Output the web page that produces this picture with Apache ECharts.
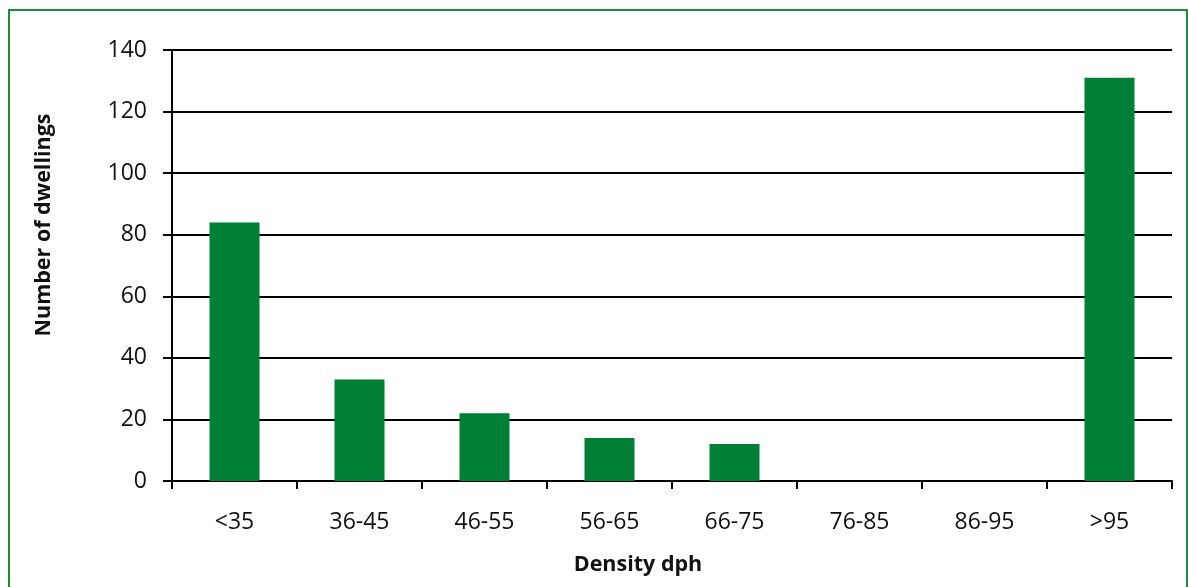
<!DOCTYPE html>
<html>
<head>
<meta charset="utf-8">
<script src="https://cdn.jsdelivr.net/npm/echarts@6/dist/echarts.min.js"></script>
<style>
html,body{margin:0;padding:0;background:#fff;}
#c{width:1188px;height:587px;}
</style>
</head>
<body>
<div id="c"></div>
<script>
const categories = ['<35', '36-45', '46-55', '56-65', '66-75', '76-85', '86-95', '>95'];
const dwellings = [84, 33, 22, 14, 12, 0, 0, 131];
const yTicks = [0, 20, 40, 60, 80, 100, 120, 140];
const xTitle = 'Density dph';
const yTitle = 'Number of dwellings';

const FONT = '"Open Sans", "Liberation Sans", sans-serif';
const chart = echarts.init(document.getElementById('c'), null, {renderer: 'canvas'});
chart.setOption({
  animation: false,
  backgroundColor: '#ffffff',
  grid: {left: 172, right: 16, top: 50, bottom: 106, containLabel: false},
  xAxis: {
    type: 'category',
    data: categories,
    boundaryGap: true,
    axisLine: {lineStyle: {color: '#000', width: 2}},
    axisTick: {show: true, alignWithLabel: false, length: 8, lineStyle: {color: '#000', width: 2}},
    axisLabel: {color: '#111', fontFamily: FONT, fontSize: 23, margin: 30}
  },
  yAxis: {
    type: 'value',
    min: yTicks[0],
    max: yTicks[yTicks.length - 1],
    interval: 20,
    axisLine: {show: true, lineStyle: {color: '#000', width: 2}},
    axisTick: {show: true, length: 9, lineStyle: {color: '#000', width: 2}},
    axisLabel: {color: '#111', fontFamily: FONT, fontSize: 23, margin: 25, padding: [10, 0, 0, 0]},
    splitLine: {show: true, lineStyle: {color: '#000', width: 2}}
  },
  series: [{
    type: 'bar',
    data: dwellings,
    barWidth: 50,
    itemStyle: {color: '#007F37'}
  }],
  graphic: [
    {type: 'rect', shape: {x: 9, y: 10, width: 1178, height: 600}, style: {fill: 'none', stroke: '#1E8C3C', lineWidth: 2}, silent: true},
    {type: 'text', x: 638, y: 565, style: {text: xTitle, fontFamily: FONT, fontWeight: 'bold', fontSize: 21.5, fill: '#111', align: 'center', verticalAlign: 'middle'}},
    {type: 'text', x: 44, y: 225, rotation: Math.PI / 2, style: {text: yTitle, fontFamily: FONT, fontWeight: 'bold', fontSize: 21.5, fill: '#111', align: 'center', verticalAlign: 'middle'}}
  ]
});
</script>
</body>
</html>
